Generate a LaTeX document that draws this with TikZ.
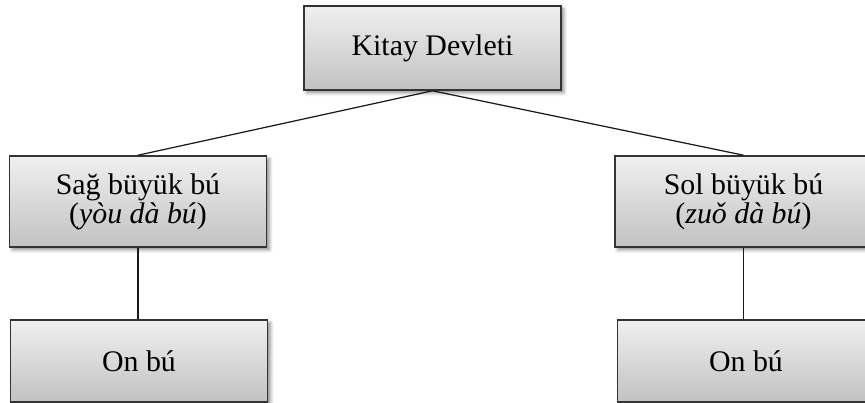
\documentclass[tikz,border=0pt]{standalone}
\usepackage{fontspec}
\setmainfont{Liberation Serif}
\usetikzlibrary{shadows.blur}

\begin{document}
\begin{tikzpicture}[-,thin,node distance=3.07cm,
    every node/.style={font=\fontsize{17}{15.4}\selectfont},
    box/.style={draw=black!80,line width=0.9pt,top color=gray!12,
      bottom color=gray!48,minimum width=5.14cm,inner sep=0pt,
      align=center,
      blur shadow={shadow xshift=1.6pt,shadow yshift=-1.6pt,
        shadow blur radius=2pt,shadow opacity=45}}]

  \useasboundingbox (0,0) rectangle (17.3,-8.06);

  \node[box,minimum height=1.68cm] (kd) at (8.65,-0.96) {Kitay Devleti};
  \node[box,minimum height=1.82cm] (sag) [below of=kd, xshift=-5.89cm]
    {Sağ büyük bú\\(\textit{yòu dà bú})};
  \node[box,minimum height=1.82cm] (sol) [below of=kd, xshift=6.22cm]
    {Sol büyük bú\\(\textit{zuǒ dà bú})};
  \node[box,minimum height=1.64cm] (onl) [below of=sag, yshift=-0.12cm,
    xshift=0.02cm] {On bú};
  \node[box,minimum height=1.64cm] (onr) [below of=sol, yshift=-0.12cm,
    xshift=0.05cm] {On bú};

  \draw[line width=0.7pt,black!90]
  (kd.south) edge (sag.north)
  (kd.south) edge (sol.north)
  (sag.south) edge (sag.south |- onl.north)
  (sol.south) edge (sol.south |- onr.north);

\end{tikzpicture}
\end{document}
